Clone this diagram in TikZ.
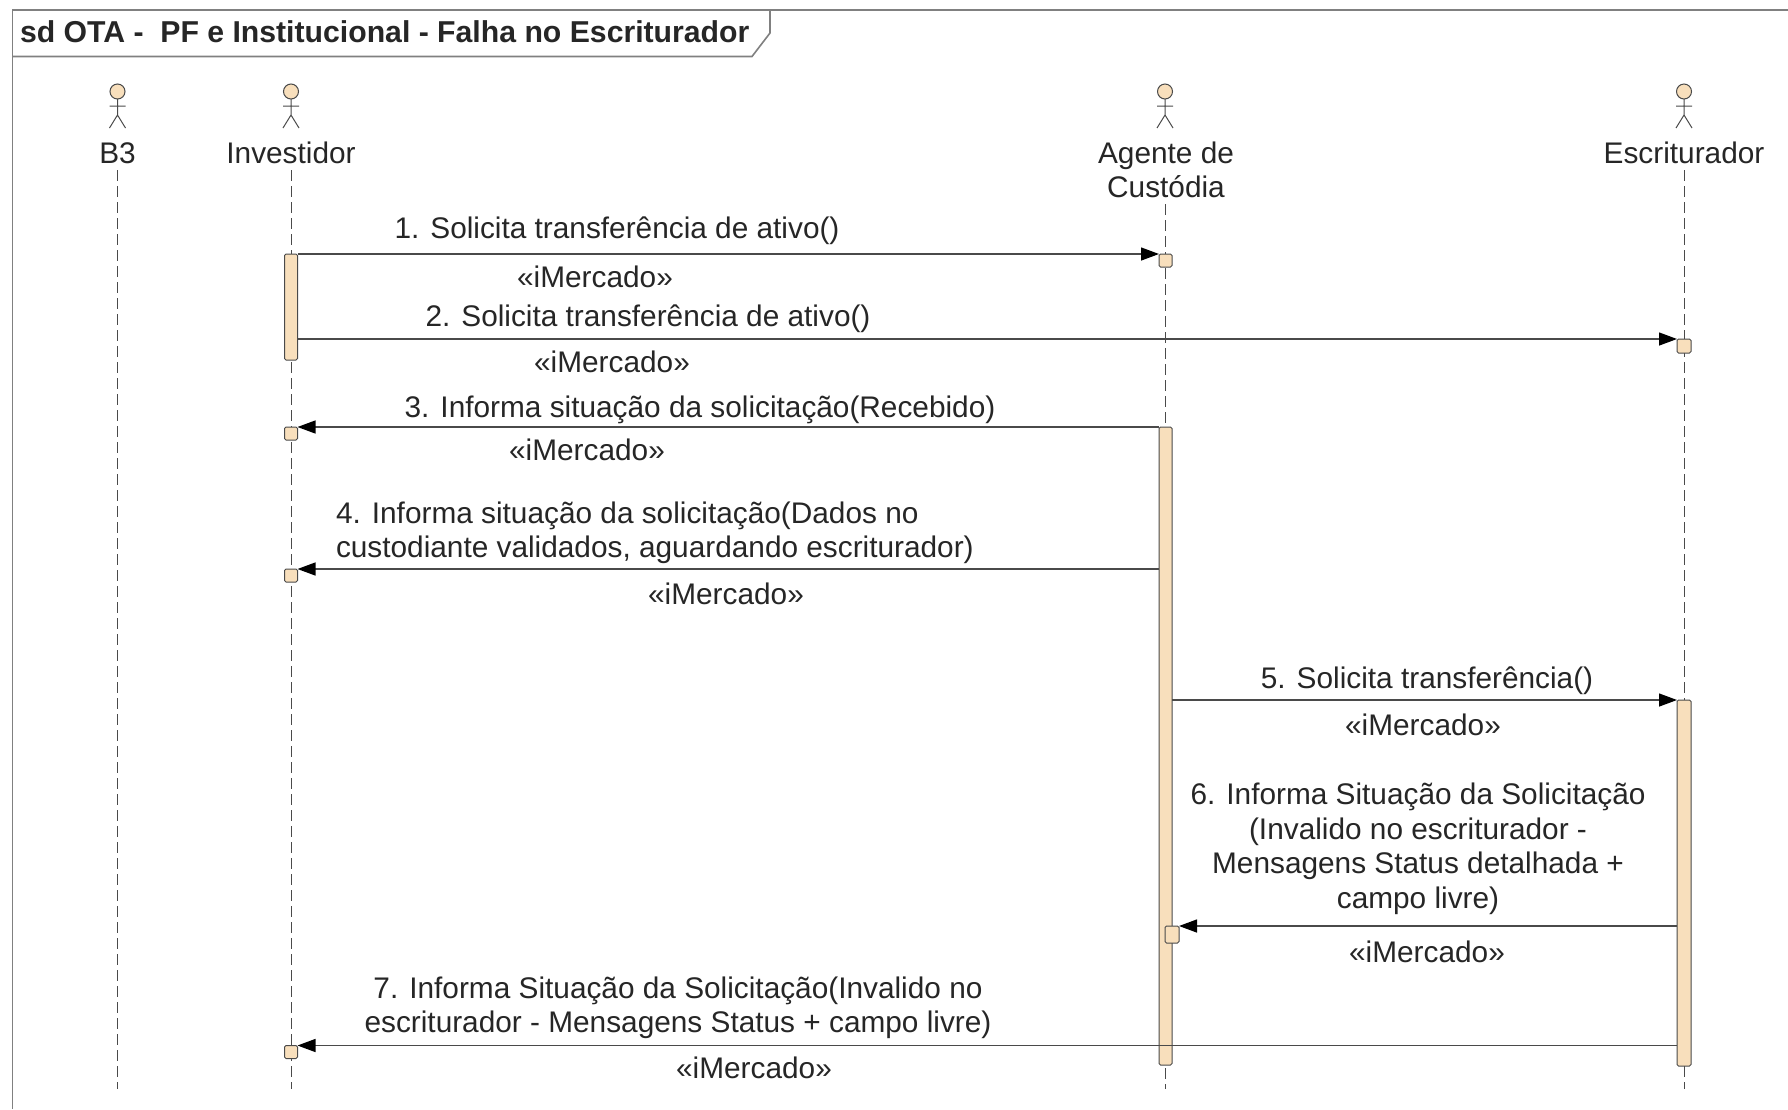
\documentclass[tikz,border=0pt]{standalone}
\usepackage{fontspec}
\setmainfont{Liberation Sans}
\usetikzlibrary{arrows.meta}
\definecolor{actfill}{HTML}{F8DFBC}
\definecolor{linec}{HTML}{4A4A4A}
\definecolor{framec}{HTML}{808080}
\definecolor{textc}{HTML}{262626}
\tikzset{
  x=1pt,y=-1pt,
  every node/.style={text=textc,inner sep=0pt,outer sep=0pt},
  lbl/.style={font=\fontsize{29.8}{34.5}\selectfont,align=center,anchor=center},
  lblleft/.style={font=\fontsize{29.8}{34.5}\selectfont,align=left,anchor=west},
  titlelbl/.style={font=\fontsize{30.2}{34}\selectfont\bfseries,anchor=west},
  framel/.style={draw=framec,line width=1.6pt},
  life/.style={draw=linec,line width=0.9pt,dash pattern=on 11pt off 5pt},
  msg/.style={draw=linec,line width=1.3pt,-{Triangle[length=18pt,width=13pt,color=black]}},
  act/.style={draw=linec,line width=1pt,fill=actfill,rounded corners=1.5pt,anchor=north west,minimum width=#1,inner sep=0pt},
  actor/.style={draw=linec,line width=1pt},
  head/.style={draw=linec,line width=1pt,fill=actfill},
  pics/stick/.style={code={
    \draw[actor] (0,99) -- (0,115) (-8,106) -- (8,106) (-8,128) -- (0,115) -- (8,128);
    \draw[head] (0,91.5) ellipse [x radius=7.5pt,y radius=7.5pt];
  }}
}
\begin{document}
\begin{tikzpicture}
\useasboundingbox (0,0) rectangle (1788,1109);
\fill[white] (0,0) rectangle (1788,1109);
% frame
\draw[framel] (12.5,1109) -- (12.5,10) -- (1788,10);
\draw[framel] (12.5,56.5) -- (752,56.5) -- (770,33) -- (770,10);
\node[titlelbl] (title) at (20,32) {sd OTA -\ \ PF e Institucional - Falha no Escriturador};
% actors
\pic at (117.5,0) {stick};
\pic at (291,0) {stick};
\pic at (1165,0) {stick};
\pic at (1684,0) {stick};
\node[lbl] (b3) at (117.5,153) {B3};
\node[lbl] (inv) at (291,153) {Investidor};
\node[lbl] (age) at (1166,170) {Agente de\\Custódia};
\node[lbl] (esc) at (1684,153) {Escriturador};
% lifelines
\coordinate (b3end) at (117.5,1089);
\coordinate (invend) at (291,1089);
\coordinate (ageend) at (1165,1089);
\coordinate (escend) at (1684,1089);
\coordinate (b3top) at (117.5,170);
\coordinate (invtop) at (291,170);
\coordinate (agetop) at (1165,204);
\coordinate (esctop) at (1684,170);
\draw[life] (b3top) -- (b3end);
\draw[life] (invtop) -- (invend);
\draw[life] (agetop) -- (ageend);
\draw[life] (esctop) -- (escend);
% activations
\node[act=13pt,minimum height=106pt] (actinv) at (284.5,254) {};
\node[act=13pt,minimum height=638pt] (actage) at (1159,427) {};
\node[act=14pt,minimum height=366pt] (actesc) at (1677,700) {};
\node[act=13pt,minimum height=13pt] (box1) at (1159,254) {};
\node[act=14pt,minimum height=14pt] (box2) at (1677,339) {};
\node[act=13pt,minimum height=13pt] (box3) at (284.5,427) {};
\node[act=13pt,minimum height=13pt] (box4) at (284.5,569) {};
\node[act=14pt,minimum height=17pt] (box6) at (1165,926) {};
\node[act=13pt,minimum height=13pt] (box7) at (284.5,1045.5) {};
% message ends
\coordinate (m2s) at (297.5,339);
\coordinate (m4s) at (1159,569);
\coordinate (m5s) at (1172,700);
\coordinate (m6s) at (1677,926);
\coordinate (m7s) at (1677,1045.5);
\draw[msg] (actinv.north east) -- (box1.north west);
\draw[msg] (m2s) -- (box2.north west);
\draw[msg] (actage.north west) -- (box3.north east);
\draw[msg] (m4s) -- (box4.north east);
\draw[msg] (m5s) -- (actesc.north west);
\draw[msg] (m6s) -- (box6.north east);
\draw[msg] (m7s) -- (box7.north east);
% labels
\node[lbl] (t1) at (617,231) {1. Solicita transferência de ativo()};
\node[lbl] (s1) at (595,277) {«iMercado»};
\node[lbl] (t2) at (648,319) {2. Solicita transferência de ativo()};
\node[lbl] (s2) at (612,362) {«iMercado»};
\node[lbl] (t3) at (700,410) {3. Informa situação da solicitação(Recebido)};
\node[lbl] (s3) at (587,450) {«iMercado»};
\node[lblleft] (t4) at (336,533) {4. Informa situação da solicitação(Dados no\\custodiante validados, aguardando escriturador)};
\node[lbl] (s4) at (726,594) {«iMercado»};
\node[lbl] (t5) at (1427,681) {5. Solicita transferência()};
\node[lbl] (s5) at (1423,725) {«iMercado»};
\node[lbl] (t6) at (1418,849) {6. Informa Situação da Solicitação\\(Invalido no escriturador -\\Mensagens Status detalhada +\\campo livre)};
\node[lbl] (s6) at (1427,952) {«iMercado»};
\node[lbl] (t7) at (678,1008) {7. Informa Situação da Solicitação(Invalido no\\escriturador - Mensagens Status + campo livre)};
\node[lbl] (s7) at (754,1068) {«iMercado»};
\end{tikzpicture}
\end{document}
